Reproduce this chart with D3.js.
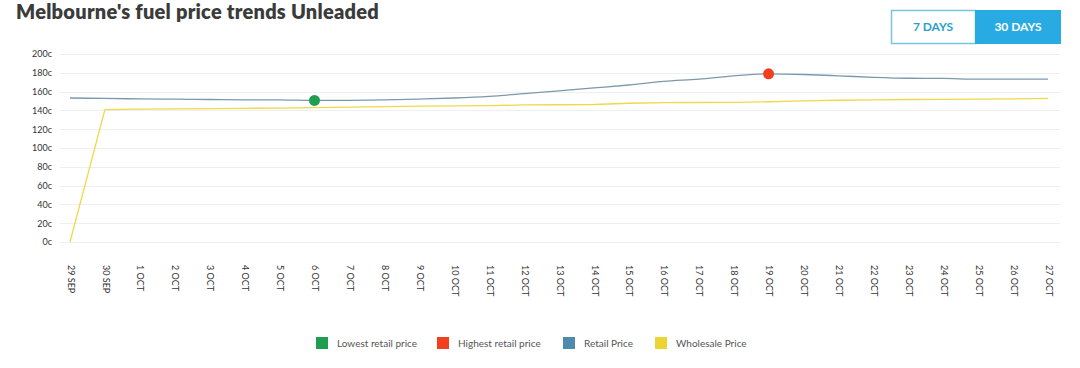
<!DOCTYPE html>
<html>
<head>
<meta charset="utf-8">
<script src="https://cdn.jsdelivr.net/npm/d3@7"></script>
<style>
  body { margin: 0; background: #fff; font-family: Lato, "Open Sans", sans-serif; }
  svg text { font-family: Lato, "Open Sans", sans-serif; }
</style>
</head>
<body>
<svg id="chart" width="1080" height="368"></svg>
<script>
// dates along the x axis
const dates = ["29 SEP","30 SEP","1 OCT","2 OCT","3 OCT","4 OCT","5 OCT","6 OCT","7 OCT","8 OCT",
  "9 OCT","10 OCT","11 OCT","12 OCT","13 OCT","14 OCT","15 OCT","16 OCT","17 OCT","18 OCT",
  "19 OCT","20 OCT","21 OCT","22 OCT","23 OCT","24 OCT","25 OCT","26 OCT","27 OCT"];

// retail price (cents)
const retail = [153.2,152.7,152.2,151.9,151.6,151.3,151.1,150.6,150.7,151.1,
  152.0,153.2,155.0,157.8,160.8,163.9,167.0,170.8,173.3,176.8,
  178.9,178.2,176.8,175.2,174.2,174.0,173.2,173.2,173.2];

// wholesale price (cents)
const wholesale = [0,140.8,141.3,141.6,141.9,142.2,142.5,142.9,143.4,144.0,
  144.5,144.8,145.0,145.8,146.0,146.3,147.6,148.3,148.4,148.5,
  149.2,150.2,150.8,151.3,151.6,151.7,152.0,152.2,152.8];

const yTicks = [0,20,40,60,80,100,120,140,160,180,200];

const lowIdx = 7, highIdx = 20;

const legendItems = [
  {label: "Lowest retail price", color: "#1f9e4f"},
  {label: "Highest retail price", color: "#f2401f"},
  {label: "Retail Price", color: "#4d8aac"},
  {label: "Wholesale Price", color: "#ecd433"}
];

const svg = d3.select("#chart");

// title
svg.append("text")
  .attr("x", 16).attr("y", 19)
  .attr("font-size", 20).attr("font-weight", 800)
  .attr("letter-spacing", 0.25)
  .attr("fill", "#3b3b3b")
  .text("Melbourne's fuel price trends Unleaded");

// buttons
const btn = svg.append("g");
btn.append("rect").attr("x", 891.5).attr("y", 10.5).attr("width", 84).attr("height", 33)
  .attr("fill", "#fff").attr("stroke", "#7cc3df").attr("stroke-width", 1.5);
btn.append("rect").attr("x", 975).attr("y", 10).attr("width", 86).attr("height", 34)
  .attr("fill", "#28aae2");
btn.append("text").attr("x", 933).attr("y", 31).attr("text-anchor", "middle")
  .attr("font-size", 12).attr("font-weight", 700).attr("fill", "#2a9fd0").text("7 DAYS");
btn.append("text").attr("x", 1018).attr("y", 31).attr("text-anchor", "middle")
  .attr("font-size", 12).attr("font-weight", 700).attr("fill", "#fff").text("30 DAYS");

// scales
const x = d3.scalePoint().domain(dates).range([70, 1048]);
const y = d3.scaleLinear().domain([0, 200]).range([242, 54]);

// gridlines
svg.append("g")
  .selectAll("line")
  .data(yTicks)
  .enter().append("line")
  .attr("x1", 60).attr("x2", 1060)
  .attr("y1", d => Math.round(y(d)) + 0.5)
  .attr("y2", d => Math.round(y(d)) + 0.5)
  .attr("stroke", "#efeff2").attr("stroke-width", 1);

// y axis labels
const yAxis = svg.append("g")
  .attr("transform", "translate(52,0)")
  .call(d3.axisLeft(y).tickValues(yTicks).tickSize(0).tickPadding(0).tickFormat(d => d + "c"));
yAxis.select(".domain").remove();
yAxis.selectAll("text").attr("font-size", 9).attr("fill", "#333");

// x axis labels
const xAxis = svg.append("g")
  .attr("transform", "translate(0,262)")
  .call(d3.axisBottom(x).tickSize(0).tickPadding(0));
xAxis.select(".domain").remove();
xAxis.selectAll("text")
  .attr("font-size", 9).attr("fill", "#333")
  .attr("text-anchor", "start")
  .attr("dy", "0.32em")
  .attr("transform", "rotate(90)")
  .attr("x", 3).attr("y", 0);

// lines
const line = d3.line()
  .x((d, i) => x(dates[i]))
  .y(d => y(d));

svg.append("path")
  .datum(wholesale)
  .attr("d", line)
  .attr("fill", "none")
  .attr("stroke", "#efd84a").attr("stroke-width", 1.3);

svg.append("path")
  .datum(retail)
  .attr("d", line.curve(d3.curveMonotoneX))
  .attr("fill", "none")
  .attr("stroke", "#7d98ad").attr("stroke-width", 1.3);

// low / high points
svg.append("circle")
  .attr("cx", x(dates[lowIdx])).attr("cy", y(retail[lowIdx]))
  .attr("r", 5.5).attr("fill", "#1f9e4f");
svg.append("circle")
  .attr("cx", x(dates[highIdx])).attr("cy", y(retail[highIdx]))
  .attr("r", 5.5).attr("fill", "#f2401f");

// legend
const legendX = [316, 437, 563, 655];
const legend = svg.append("g")
  .selectAll("g")
  .data(legendItems)
  .enter().append("g")
  .attr("transform", (d, i) => "translate(" + legendX[i] + ",337)");
legend.append("rect")
  .attr("width", 12).attr("height", 12)
  .attr("fill", d => d.color);
legend.append("text")
  .attr("x", 21).attr("y", 10)
  .attr("font-size", 10).attr("fill", "#555")
  .text(d => d.label);
</script>
</body>
</html>
